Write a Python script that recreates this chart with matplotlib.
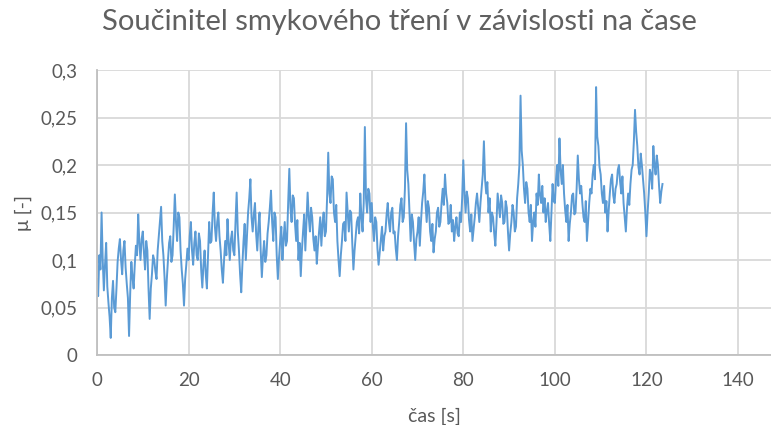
import matplotlib
matplotlib.use("Agg")
import matplotlib.pyplot as plt
import numpy as np

# vzorkovani 0,25 s (po 5 s na radek)
dt = 0.25
mu = [
    0.080, 0.062, 0.105, 0.090, 0.150, 0.100, 0.068, 0.095, 0.118, 0.072,
    0.055, 0.040, 0.018, 0.060, 0.078, 0.050, 0.045, 0.070, 0.098, 0.112,
    # 5 s
    0.122, 0.100, 0.085, 0.110, 0.120, 0.092, 0.075, 0.060, 0.020, 0.065,
    0.098, 0.082, 0.070, 0.095, 0.115, 0.105, 0.148, 0.118, 0.100, 0.122,
    # 10 s
    0.130, 0.108, 0.090, 0.120, 0.110, 0.070, 0.038, 0.070, 0.085, 0.105,
    0.100, 0.088, 0.080, 0.110, 0.125, 0.140, 0.156, 0.120, 0.105, 0.082,
    # 15 s
    0.052, 0.080, 0.100, 0.118, 0.125, 0.098, 0.105, 0.135, 0.169, 0.140,
    0.120, 0.150, 0.145, 0.110, 0.090, 0.075, 0.052, 0.080, 0.095, 0.112,
    # 20 s
    0.100, 0.125, 0.140, 0.110, 0.095, 0.118, 0.130, 0.105, 0.100, 0.128,
    0.120, 0.090, 0.071, 0.095, 0.110, 0.085, 0.070, 0.105, 0.140, 0.118,
    # 25 s
    0.120, 0.150, 0.171, 0.135, 0.120, 0.140, 0.150, 0.125, 0.110, 0.090,
    0.076, 0.100, 0.120, 0.105, 0.143, 0.118, 0.100, 0.122, 0.130, 0.110,
    # 30 s
    0.105, 0.140, 0.171, 0.130, 0.110, 0.085, 0.066, 0.095, 0.120, 0.138,
    0.100, 0.125, 0.150, 0.165, 0.185, 0.145, 0.130, 0.148, 0.160, 0.128,
    # 35 s
    0.110, 0.135, 0.150, 0.110, 0.082, 0.105, 0.120, 0.098, 0.105, 0.128,
    0.140, 0.155, 0.173, 0.140, 0.120, 0.150, 0.145, 0.105, 0.080, 0.102,
    # 40 s
    0.120, 0.135, 0.100, 0.122, 0.140, 0.115, 0.120, 0.160, 0.196, 0.155,
    0.140, 0.168, 0.165, 0.138, 0.120, 0.142, 0.100, 0.118, 0.083, 0.110,
    # 45 s
    0.130, 0.148, 0.110, 0.140, 0.171, 0.145, 0.130, 0.155, 0.145, 0.122,
    0.110, 0.125, 0.096, 0.115, 0.130, 0.145, 0.115, 0.138, 0.150, 0.125,
    # 50 s
    0.130, 0.165, 0.213, 0.170, 0.160, 0.188, 0.185, 0.150, 0.140, 0.158,
    0.120, 0.100, 0.083, 0.105, 0.120, 0.138, 0.140, 0.120, 0.171, 0.150,
    # 55 s
    0.130, 0.152, 0.150, 0.118, 0.090, 0.110, 0.125, 0.140, 0.145, 0.128,
    0.170, 0.145, 0.130, 0.160, 0.240, 0.165, 0.150, 0.175, 0.170, 0.140,
    # 60 s
    0.160, 0.135, 0.120, 0.145, 0.140, 0.112, 0.095, 0.108, 0.120, 0.135,
    0.110, 0.125, 0.130, 0.148, 0.160, 0.140, 0.130, 0.150, 0.155, 0.128,
    # 65 s
    0.130, 0.112, 0.100, 0.125, 0.140, 0.158, 0.165, 0.140, 0.145, 0.175,
    0.244, 0.195, 0.180, 0.150, 0.120, 0.148, 0.140, 0.118, 0.100, 0.122,
    # 70 s
    0.130, 0.145, 0.115, 0.140, 0.160, 0.172, 0.190, 0.160, 0.140, 0.162,
    0.155, 0.130, 0.120, 0.138, 0.108, 0.122, 0.130, 0.150, 0.155, 0.135,
    # 75 s
    0.140, 0.160, 0.175, 0.158, 0.190, 0.170, 0.160, 0.138, 0.140, 0.158,
    0.130, 0.142, 0.120, 0.135, 0.145, 0.128, 0.125, 0.150, 0.140, 0.165,
    # 80 s
    0.205, 0.170, 0.150, 0.172, 0.165, 0.142, 0.130, 0.148, 0.120, 0.132,
    0.145, 0.160, 0.170, 0.155, 0.140, 0.160, 0.175, 0.190, 0.225, 0.185,
    # 85 s
    0.170, 0.182, 0.150, 0.165, 0.130, 0.150, 0.145, 0.128, 0.115, 0.140,
    0.170, 0.158, 0.145, 0.168, 0.160, 0.138, 0.140, 0.162, 0.155, 0.130,
    # 90 s
    0.110, 0.128, 0.140, 0.158, 0.150, 0.130, 0.135, 0.165, 0.180, 0.200,
    0.273, 0.215, 0.200, 0.175, 0.160, 0.182, 0.175, 0.150, 0.140, 0.158,
    # 95 s
    0.120, 0.140, 0.150, 0.135, 0.170, 0.158, 0.190, 0.168, 0.160, 0.178,
    0.150, 0.165, 0.140, 0.152, 0.160, 0.138, 0.120, 0.150, 0.180, 0.162,
    # 100 s
    0.160, 0.185, 0.200, 0.178, 0.228, 0.195, 0.180, 0.200, 0.170, 0.152,
    0.140, 0.158, 0.120, 0.138, 0.150, 0.168, 0.170, 0.148, 0.150, 0.175,
    # 105 s
    0.210, 0.185, 0.170, 0.178, 0.160, 0.145, 0.140, 0.162, 0.120, 0.140,
    0.160, 0.175, 0.170, 0.190, 0.200, 0.185, 0.282, 0.230, 0.220, 0.198,
    # 110 s
    0.190, 0.170, 0.160, 0.178, 0.150, 0.162, 0.130, 0.152, 0.170, 0.185,
    0.190, 0.168, 0.160, 0.175, 0.180, 0.195, 0.200, 0.182, 0.170, 0.188,
    # 115 s
    0.160, 0.145, 0.130, 0.155, 0.170, 0.158, 0.180, 0.195, 0.200, 0.225,
    0.258, 0.235, 0.220, 0.198, 0.190, 0.212, 0.200, 0.185, 0.170, 0.150,
    # 120 s
    0.125, 0.150, 0.170, 0.195, 0.190, 0.175, 0.220, 0.200, 0.190, 0.210,
    0.200, 0.178, 0.160, 0.172, 0.180,
]
cas = np.arange(len(mu)) * dt

x_ticks = [0, 20, 40, 60, 80, 100, 120, 140]
y_ticks = [0, 0.05, 0.1, 0.15, 0.2, 0.25, 0.3]
y_labels = ["0", "0,05", "0,1", "0,15", "0,2", "0,25", "0,3"]

plt.rcParams["font.family"] = ["Lato", "DejaVu Sans"]
text_color = "#595959"

fig = plt.figure(figsize=(7.71, 4.25), dpi=100)
ax = fig.add_axes([97 / 771, 70 / 425, 674 / 771, 285 / 425])

ax.plot(cas, mu, color="#5b9bd5", linewidth=1.4)

ax.set_xlim(0, 147.2)
ax.set_ylim(0, 0.3)
ax.set_xticks(x_ticks)
ax.set_xticklabels([str(v) for v in x_ticks])
ax.set_yticks(y_ticks)
ax.set_yticklabels(y_labels)
ax.tick_params(length=0, labelsize=13.5, colors=text_color, pad=12)
ax.tick_params(axis="y", pad=14)

ax.grid(True, color="#d9d9d9", linewidth=1.3)
ax.set_axisbelow(True)
for side in ["top", "right"]:
    ax.spines[side].set_visible(False)
for side in ["left", "bottom"]:
    ax.spines[side].set_color("#bfbfbf")
    ax.spines[side].set_linewidth(1.3)

ax.set_xlabel("čas [s]", fontsize=14, color=text_color, labelpad=14)
ax.set_ylabel("μ [-]", fontsize=14, color=text_color, labelpad=6)

fig.text(399 / 771, 1 - 22 / 425, "Součinitel smykového tření v závislosti na čase",
         ha="center", va="center", fontsize=21, color="#606060")

fig.savefig("out.png", dpi=100)
